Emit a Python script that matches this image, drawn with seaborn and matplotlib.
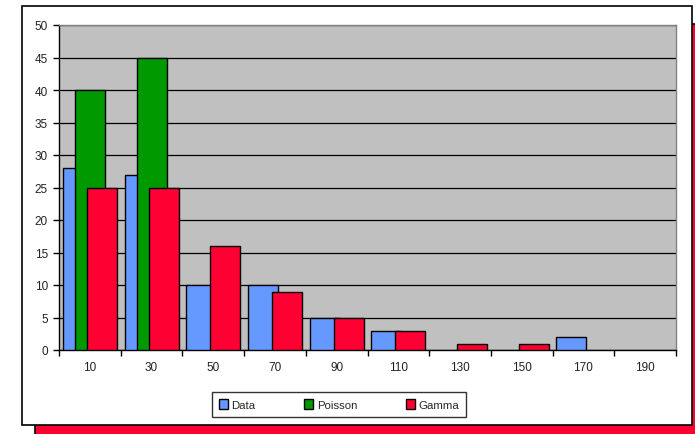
import numpy as np
import pandas as pd
import matplotlib
matplotlib.use("Agg")
import matplotlib.pyplot as plt
import seaborn as sns
from matplotlib.patches import Rectangle, Patch

# Значения
categories = [10, 30, 50, 70, 90, 110, 130, 150, 170, 190]
data_vals = [28, 27, 10, 10, 5, 3, 0, 0, 2, 0]
poisson_vals = [40, 45, 0, 0, 0, 0, 0, 0, 0, 0]
gamma_vals = [25, 25, 16, 9, 5, 3, 1, 1, 0, 0]

series_names = ["Data", "Poisson", "Gamma"]
colors = ["#6699FF", "#009900", "#FF0033"]
offsets = [-3.9, 0.0, 3.9]

sns.set_style("white")
plt.rcParams["font.family"] = ["Liberation Sans", "DejaVu Sans"]

fig = plt.figure(figsize=(6.95, 4.35), dpi=100)
W, H = 695, 435

# Тень и рамка вокруг диаграммы (как в Excel)
fig.patches.append(Rectangle((35 / W, 1 - 444 / H), 670 / W, 419 / H,
                             transform=fig.transFigure, facecolor="#FF0033",
                             edgecolor="black", linewidth=1.2, zorder=0))
fig.patches.append(Rectangle((22 / W, 1 - 426 / H), 670 / W, 419 / H,
                             transform=fig.transFigure, facecolor="white",
                             edgecolor="black", linewidth=1.2, zorder=1))

ax = fig.add_axes([59 / W, 1 - 351 / H, 617 / W, 325 / H])
ax.set_facecolor("#C0C0C0")
ax.set_zorder(2)

for name, vals, col, off in zip(series_names, [data_vals, poisson_vals, gamma_vals], colors, offsets):
    df = pd.DataFrame({"x": np.array(categories) + off, "y": vals})
    df = df[df["y"] > 0]
    sns.barplot(data=df, x="x", y="y", native_scale=True, width=0.485,
                color=col, saturation=1, edgecolor="black", linewidth=1,
                ax=ax, zorder=3)

ax.set_xlim(0, 200)
ax.set_ylim(0, 50)
ax.set_xlabel("")
ax.set_ylabel("")

# Ось Y
ax.set_yticks(range(0, 51, 5))
ax.yaxis.grid(True, color="black", linewidth=0.9)
ax.set_axisbelow(True)
ax.tick_params(axis="y", which="major", direction="out", length=4, width=1,
               color="black", labelsize=8.5, labelcolor="#222222", pad=4, left=True)

# Ось X: засечки на границах категорий, подписи по центру
ax.set_xticks(range(0, 201, 20))
ax.set_xticklabels([])
ax.set_xticks(categories, minor=True)
ax.set_xticklabels([str(c) for c in categories], minor=True)
ax.tick_params(axis="x", which="major", direction="out", length=4, width=1,
               color="black", bottom=True)
ax.tick_params(axis="x", which="minor", length=0, labelsize=8.5,
               labelcolor="#222222", pad=8)

for side in ["left", "bottom"]:
    ax.spines[side].set_color("black")
    ax.spines[side].set_linewidth(1)
for side in ["top", "right"]:
    ax.spines[side].set_visible(True)
    ax.spines[side].set_color("#808080")
    ax.spines[side].set_linewidth(1)

# Легенда
handles = [Patch(facecolor=c, edgecolor="black", linewidth=1, label=n)
           for n, c in zip(series_names, colors)]
leg = fig.legend(handles=handles, loc="center", ncol=3,
                 bbox_to_anchor=(339 / W, 1 - 405.5 / H), frameon=True,
                 fancybox=False, edgecolor="black", fontsize=8.2,
                 handlelength=0.8, handleheight=0.9, handletextpad=0.3,
                 columnspacing=4.3, borderpad=0.6, borderaxespad=0)
leg.get_frame().set_linewidth(1)
leg.set_zorder(5)

fig.savefig("out.png", dpi=100)
